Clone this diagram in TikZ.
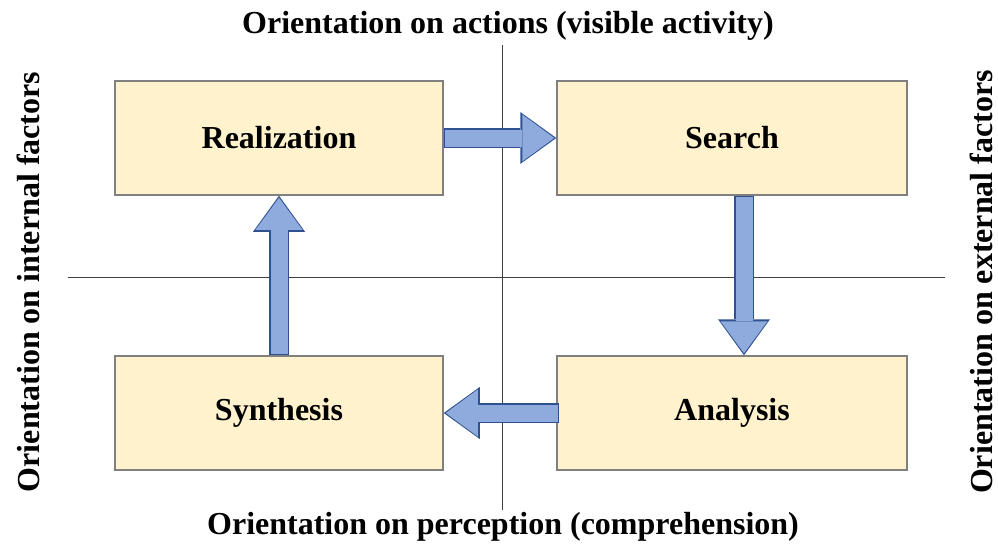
\documentclass[tikz,border=0pt]{standalone}
\usepackage{fontspec}
\setmainfont{Liberation Serif}
\usetikzlibrary{arrows.meta}
\definecolor{boxfill}{HTML}{FFF2CC}
\definecolor{boxline}{HTML}{808080}
\definecolor{arrowfill}{HTML}{8FAADC}
\definecolor{arrowline}{HTML}{2F528F}
\tikzstyle{stage} = [rectangle, draw = boxline, line width = 1.5pt, fill = boxfill, inner sep = 0pt, minimum height = 114pt, font = \fontsize{32}{36}\selectfont\bfseries]
\tikzstyle{title} = [inner sep = 0pt, font = \fontsize{32}{36}\selectfont\bfseries]
\tikzstyle{axis} = [draw = black!75, line width = 0.8pt]
\tikzstyle{fatarrow} = [draw = arrowfill, line width = 17pt, shorten <= 1.5pt, shorten >= 2pt, -{Triangle[length = 32pt, width = 47pt, line width = 0pt]}, preaction = {draw = arrowline, line width = 20pt, shorten <= 0pt, shorten >= 0pt, -{Triangle[length = 36pt, width = 52pt, line width = 0pt]}}]

\begin{document}
\begin{tikzpicture}[x = 1pt, y = -1pt]
			\useasboundingbox (0, 0) rectangle (998, 546);
			% Axes
			\coordinate (vtop) at (502, 45);
			\coordinate (vbot) at (502, 510);
			\coordinate (hleft) at (68, 277);
			\coordinate (hright) at (945, 277);
			\path [axis] (vtop) -- (vbot);
			\path [axis] (hleft) -- (hright);
			% Place nodes
			\node [stage, minimum width = 328pt] (realization) at (279, 138) {Realization};
			\node [stage, minimum width = 350pt] (search) at (732, 138) {Search};
			\node [stage, minimum width = 328pt] (synthesis) at (279, 413) {Synthesis};
			\node [stage, minimum width = 350pt] (analysis) at (732, 413) {Analysis};
			% Axis titles
			\node [title] (actions) at (508, 26) {Orientation on actions (visible activity)};
			\node [title] (perception) at (503, 527) {Orientation on perception (comprehension)};
			\node [title, rotate = 90] (internal) at (28, 282) {Orientation on internal factors};
			\node [title, rotate = 90] (external) at (981, 282) {Orientation on external factors};
			% Draw edges
			\path [fatarrow] (realization.east) -- (search.west);
			\path [fatarrow] ([xshift = 12pt]search.south) -- ([xshift = 12pt]analysis.north);
			\path [fatarrow] ([xshift = 3pt]analysis.west) -- (synthesis.east);
			\path [fatarrow] (synthesis.north) -- (realization.south);
		\end{tikzpicture}
\end{document}
